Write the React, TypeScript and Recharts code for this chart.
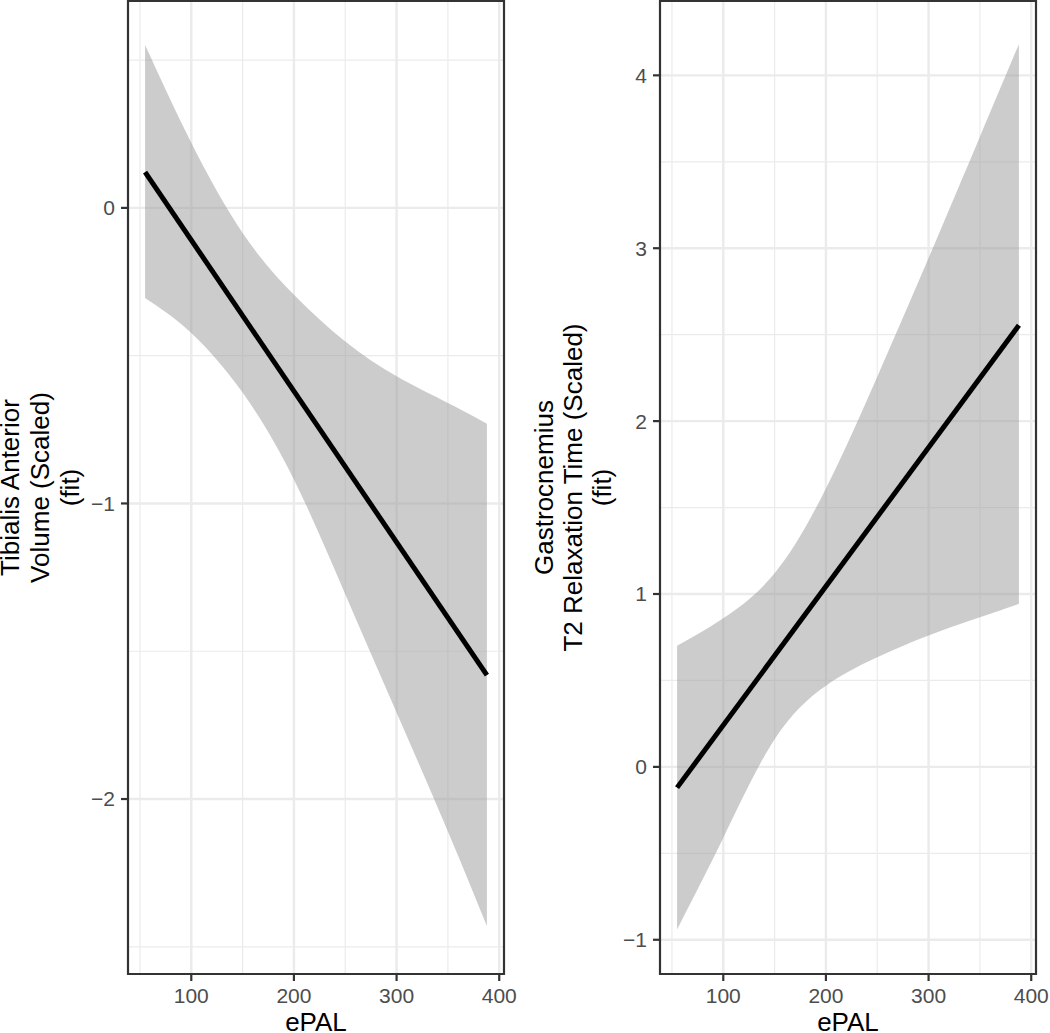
import React from 'react'
import {
  ComposedChart,
  Area,
  Line,
  XAxis,
  YAxis,
  CartesianGrid,
  ReferenceArea,
  Label,
} from 'recharts'

const epal = [55, 100, 150, 200, 250, 300, 350, 388]

// Tibialis anterior volume (scaled), fitted line and 95% band
const taLower = [-0.305, -0.423, -0.625, -0.919, -1.307, -1.707, -2.11, -2.43]
const taUpper = [0.551, 0.22, -0.085, -0.294, -0.452, -0.57, -0.66, -0.73]
const taFitX = [55, 388]
const taFit = [0.121, -1.581]

// Gastrocnemius T2 relaxation time (scaled)
const gaLower = [-0.94, -0.41, 0.16, 0.47, 0.634, 0.76, 0.865, 0.943]
const gaUpper = [0.7, 0.86, 1.12, 1.61, 2.257, 2.943, 3.645, 4.18]
const gaFitX = [55, 388]
const gaFit = [-0.12, 2.554]

const xTicks = [100, 200, 300, 400]
const xMinor = [50, 150, 250, 350]
const taTicks = [-2, -1, 0]
const taMinor = [-2.5, -1.5, -0.5, 0.5]
const gaTicks = [-1, 0, 1, 2, 3, 4]
const gaMinor = [-0.5, 0.5, 1.5, 2.5, 3.5]

const X_DOMAIN: [number, number] = [38.35, 404.65]
const FONT = '"Liberation Sans", Arial, Helvetica, sans-serif'

const fmt = (v: number) => String(v).replace('-', '\u2212')

interface PanelProps {
  width: number
  yWidth: number
  right: number
  yDomain: [number, number]
  yTicks: number[]
  yMinor: number[]
  lower: number[]
  upper: number[]
  fitX: number[]
  fit: number[]
  title: string[]
  titleX: number
  titleGap: number
}

const Panel = (p: PanelProps) => {
  const band = epal.map((x, i) => ({ x, band: [p.lower[i], p.upper[i]] }))
  const fitRows = p.fitX.map((x, i) => ({ x, fit: p.fit[i] }))

  return (
    <ComposedChart
      width={p.width}
      height={1033}
      data={band}
      margin={{ top: 1, right: p.right, bottom: 0, left: 0 }}
    >
      <CartesianGrid
        horizontalValues={p.yMinor}
        verticalValues={xMinor}
        stroke="#EBEBEB"
        strokeWidth={1.2}
      />
      <CartesianGrid
        horizontalValues={p.yTicks}
        verticalValues={xTicks}
        stroke="#EBEBEB"
        strokeWidth={2.4}
      />
      <XAxis
        type="number"
        dataKey="x"
        domain={X_DOMAIN}
        ticks={xTicks}
        allowDataOverflow
        height={59}
        axisLine={false}
        tickSize={7}
        tickMargin={7}
        fontSize={21}
        fontFamily={FONT}
        tickLine={{ stroke: '#333333', strokeWidth: 2.2 }}
        tick={{ fill: '#4D4D4D', fontSize: 21, fontFamily: FONT }}
      >
        <Label
          value="ePAL"
          position="insideBottom"
          offset={2.5}
          style={{ fill: '#000', fontSize: 26, fontFamily: FONT }}
        />
      </XAxis>
      <YAxis
        type="number"
        domain={p.yDomain}
        ticks={p.yTicks}
        allowDataOverflow
        width={p.yWidth}
        axisLine={false}
        tickSize={7}
        tickMargin={6}
        fontSize={21}
        fontFamily={FONT}
        tickFormatter={fmt}
        tickLine={{ stroke: '#333333', strokeWidth: 2.2 }}
        tick={{ fill: '#4D4D4D', fontSize: 21, fontFamily: FONT }}
      >
        <Label
          content={(lp: any) => {
            const vb = lp.viewBox || {}
            const cy = vb.y + vb.height / 2
            const x0 = p.titleX
            return (
              <text
                transform={`rotate(-90, ${x0}, ${cy})`}
                x={x0}
                y={cy}
                textAnchor="middle"
                fill="#000"
                fontSize={26}
                fontFamily={FONT}
              >
                {p.title.map((t, i) => (
                  <tspan key={i} x={x0} dy={i === 0 ? 0 : p.titleGap}>
                    {t}
                  </tspan>
                ))}
              </text>
            )
          }}
        />
      </YAxis>
      <Area
        dataKey="band"
        type="natural"
        stroke="none"
        fill="#999999"
        fillOpacity={0.5}
        isAnimationActive={false}
        activeDot={false}
      />
      <Line
        data={fitRows}
        dataKey="fit"
        type="linear"
        stroke="#000000"
        strokeWidth={5}
        dot={false}
        activeDot={false}
        isAnimationActive={false}
      />
      <ReferenceArea
        x1={X_DOMAIN[0]}
        x2={X_DOMAIN[1]}
        y1={p.yDomain[0]}
        y2={p.yDomain[1]}
        fill="none"
        stroke="#333333"
        strokeWidth={2.2}
        ifOverflow="visible"
      />
    </ComposedChart>
  )
}

export default function App() {
  return (
    <div
      style={{
        position: 'absolute',
        left: 0,
        top: 0,
        width: 1050,
        height: 1033,
        display: 'flex',
        background: '#fff',
      }}
    >
      <Panel
        width={520}
        yWidth={128}
        right={16}
        yDomain={[-2.592, 0.7]}
        yTicks={taTicks}
        yMinor={taMinor}
        lower={taLower}
        upper={taUpper}
        fitX={taFitX}
        fit={taFit}
        title={['Tibialis Anterior', 'Volume (Scaled)', '(fit)']}
        titleX={19}
        titleGap={30}
      />
      <Panel
        width={530}
        yWidth={140}
        right={14}
        yDomain={[-1.198, 4.43]}
        yTicks={gaTicks}
        yMinor={gaMinor}
        lower={gaLower}
        upper={gaUpper}
        fitX={gaFitX}
        fit={gaFit}
        title={['Gastrocnemius', 'T2 Relaxation Time (Scaled)', '(fit)']}
        titleX={33}
        titleGap={29}
      />
    </div>
  )
}
